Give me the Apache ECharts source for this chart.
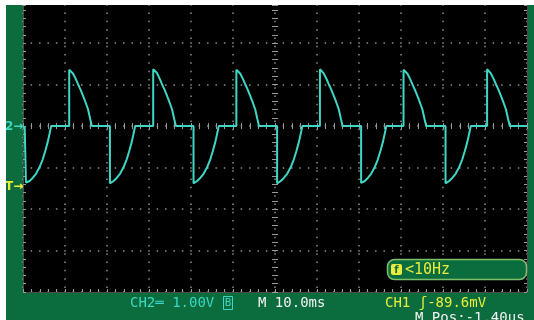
<!DOCTYPE html>
<html>
<head>
<meta charset="utf-8">
<script src="https://cdn.jsdelivr.net/npm/echarts@6/dist/echarts.min.js"></script>
<style>
  html, body { margin: 0; padding: 0; background: #ffffff; }
  #scope { width: 534px; height: 320px; }
</style>
</head>
<body>
<div id="scope"></div>
<script>
// CH2 trace, time in ms (10 ms/div) and voltage in V (1.00 V/div)
const traceTime = [
  0.4,
  0.7, 0.7, 1.0, 1.5, 2.3, 3.1, 3.9, 4.7, 5.3, 5.9, 6.4, 6.7,
  11.0, 11.0, 11.2, 11.9, 12.5, 13.1, 13.7, 14.3, 14.9, 15.5, 16.0, 16.4,
  20.7, 20.7, 21.0, 21.5, 22.3, 23.1, 23.9, 24.7, 25.3, 25.9, 26.4, 26.7,
  31.0, 31.0, 31.2, 31.9, 32.5, 33.1, 33.7, 34.3, 34.9, 35.5, 36.0, 36.4,
  40.6, 40.6, 40.9, 41.4, 42.2, 43.0, 43.8, 44.6, 45.2, 45.8, 46.3, 46.6,
  50.8, 50.8, 51.0, 51.7, 52.3, 52.9, 53.5, 54.1, 54.7, 55.3, 55.8, 56.2,
  60.5, 60.5, 60.8, 61.3, 62.1, 62.9, 63.7, 64.5, 65.1, 65.7, 66.2, 66.5,
  70.7, 70.7, 70.9, 71.6, 72.2, 72.8, 73.4, 74.0, 74.6, 75.2, 75.7, 76.1,
  80.5, 80.5, 80.8, 81.3, 82.1, 82.9, 83.7, 84.5, 85.1, 85.7, 86.2, 86.5,
  90.6, 90.6, 90.8, 91.5, 92.1, 92.7, 93.3, 93.9, 94.5, 95.1, 95.6, 96.0,
  100.6, 100.6, 100.9, 101.4, 102.2, 103.0, 103.8, 104.6, 105.2, 105.8, 106.3, 106.6,
  110.5, 110.5, 110.7, 111.4, 112.0, 112.6, 113.2, 113.8, 114.4, 115.0, 115.5, 115.9,
  120.0
];
const traceVolt = [
  0,
  0, -1.36, -1.37, -1.33, -1.25, -1.15, -1.00, -0.80, -0.60, -0.38, -0.15, 0,
  0, 1.36, 1.38, 1.27, 1.15, 1.01, 0.88, 0.73, 0.57, 0.40, 0.17, 0,
  0, -1.38, -1.39, -1.33, -1.25, -1.15, -1.00, -0.80, -0.60, -0.38, -0.15, 0,
  0, 1.37, 1.39, 1.28, 1.15, 1.01, 0.88, 0.73, 0.57, 0.40, 0.17, 0,
  0, -1.38, -1.39, -1.33, -1.25, -1.15, -1.00, -0.80, -0.60, -0.38, -0.15, 0,
  0, 1.36, 1.38, 1.27, 1.15, 1.01, 0.88, 0.73, 0.57, 0.40, 0.17, 0,
  0, -1.38, -1.39, -1.33, -1.25, -1.15, -1.00, -0.80, -0.60, -0.38, -0.15, 0,
  0, 1.37, 1.39, 1.27, 1.15, 1.01, 0.88, 0.73, 0.57, 0.40, 0.17, 0,
  0, -1.37, -1.38, -1.33, -1.25, -1.15, -1.00, -0.80, -0.60, -0.38, -0.15, 0,
  0, 1.36, 1.38, 1.27, 1.15, 1.01, 0.88, 0.73, 0.57, 0.40, 0.17, 0,
  0, -1.38, -1.39, -1.33, -1.25, -1.15, -1.00, -0.80, -0.60, -0.38, -0.15, 0,
  0, 1.37, 1.38, 1.27, 1.15, 1.01, 0.88, 0.73, 0.57, 0.40, 0.17, 0,
  0
];

// Visible part of the screen: 12 horizontal divisions; from -4 div up to
// just under +3 div vertically (the top of the graticule is out of frame)
const timeRange = [0, 120];
const timeStep = 10;
const voltRange = [-4, 2.92];
const voltStep = 1;

// Status line texts
const ch2Status = 'CH2\u2550 1.00V';
const timebaseStatus = 'M 10.0ms';
const triggerStatus = 'CH1 \u0283-89.6mV';
const positionStatus = 'M Pos:-1.40us';
const freqStatus = '<10Hz';

const GREEN = '#0b6c3d';
const CYAN = '#3ed6c4';
const YELLOW = '#e9ec3c';
const DOTS = '#8e8e8e';
const TICK = '#9a9a9a';

const traceData = traceTime.map((t, i) => [t, traceVolt[i]]);

const chart = echarts.init(document.getElementById('scope'), null, { renderer: 'canvas' });

const tickAxis = (extra) => Object.assign({
  type: 'value', min: timeRange[0], max: timeRange[1], interval: timeStep,
  axisLabel: { show: false }, splitLine: { show: false },
  axisLine: { show: false },
  axisTick: { show: true, inside: true, length: 3, lineStyle: { color: TICK, width: 1 } },
  minorTick: { show: true, splitNumber: 5, length: 3, lineStyle: { color: TICK, width: 1 } }
}, extra);

const vTickAxis = (extra) => Object.assign({
  type: 'value', min: voltRange[0], max: voltRange[1], interval: voltStep,
  axisLabel: { show: false }, splitLine: { show: false },
  axisLine: { show: false },
  axisTick: { show: true, inside: true, length: 3, lineStyle: { color: TICK, width: 1 } },
  minorTick: { show: true, splitNumber: 5, length: 3, lineStyle: { color: TICK, width: 1 } }
}, extra);

chart.setOption({
  animation: false,
  backgroundColor: GREEN,
  grid: {
    left: 23, top: 5, width: 504, height: 287,
    show: true, backgroundColor: '#000000', borderWidth: 0
  },
  xAxis: [
    // bottom border with dotted vertical grid lines
    tickAxis({
      position: 'bottom',
      axisLine: { show: true, onZero: false, lineStyle: { color: '#4a4a4a', width: 1 } },
      splitLine: { show: true, lineStyle: { color: DOTS, width: 1.5, type: [1.5, 6.8], dashOffset: 0.75 } }
    }),
    // centre horizontal graticule line, ticks on both sides
    tickAxis({ position: 'bottom', axisLine: { show: false, onZero: true, onZeroAxisIndex: 0 } }),
    tickAxis({ position: 'top', axisLine: { show: false, onZero: true, onZeroAxisIndex: 0 } }),
    // symmetric helper scale used to place the centre vertical line
    { type: 'value', min: -60, max: 60, show: false }
  ],
  yAxis: [
    // left border with dotted horizontal grid lines
    vTickAxis({
      position: 'left',
      axisLine: { show: true, onZero: false, lineStyle: { color: '#4a4a4a', width: 1 } },
      splitLine: { show: true, showMaxLine: false,
        lineStyle: { color: DOTS, width: 1.5, type: [1.5, 6.9], dashOffset: 0.75 } }
    }),
    // right border
    vTickAxis({
      position: 'right',
      axisLine: { show: true, onZero: false, lineStyle: { color: '#4a4a4a', width: 1 } }
    }),
    // centre vertical graticule line, ticks on both sides
    vTickAxis({ position: 'left', axisLine: { show: false, onZero: true, onZeroAxisIndex: 3 } }),
    vTickAxis({ position: 'right', axisLine: { show: false, onZero: true, onZeroAxisIndex: 3 } })
  ],
  series: [{
    type: 'line',
    name: 'CH2',
    xAxisIndex: 0,
    yAxisIndex: 0,
    data: traceData,
    showSymbol: false,
    clip: true,
    lineStyle: { color: CYAN, width: 2 },
    z: 5
  }],
  graphic: [
    // frequency readout box
    { type: 'rect', z: 20, shape: { x: 387.5, y: 259.5, width: 139, height: 20, r: 7 },
      style: { fill: GREEN, stroke: '#7fbf6a', lineWidth: 1.5 } },
    { type: 'rect', z: 21, shape: { x: 391, y: 264, width: 11, height: 11, r: 2 },
      style: { fill: YELLOW } },
    { type: 'text', z: 22, style: { x: 396.5, y: 270, text: 'f', fill: GREEN,
      font: 'bold 10px "DejaVu Sans"', align: 'center', verticalAlign: 'middle' } },
    { type: 'text', z: 22, style: { x: 405, y: 270, text: freqStatus, fill: YELLOW,
      font: '15px "DejaVu Sans Mono"', verticalAlign: 'middle' } },

    // channel / trigger markers at the left margin
    { type: 'text', z: 22, style: { x: 5, y: 127, text: '2\u2192', fill: CYAN,
      font: 'bold 12px "DejaVu Sans"', verticalAlign: 'middle' } },
    { type: 'text', z: 22, style: { x: 5, y: 187, text: 'T\u2192', fill: YELLOW,
      font: 'bold 12px "DejaVu Sans"', verticalAlign: 'middle' } },

    // status line
    { type: 'text', z: 22, style: { x: 130, y: 303, text: ch2Status, fill: CYAN,
      font: '14px "DejaVu Sans Mono"', verticalAlign: 'middle' } },
    { type: 'rect', z: 22, shape: { x: 223.5, y: 296.5, width: 9, height: 13 },
      style: { fill: 'none', stroke: CYAN, lineWidth: 1 } },
    { type: 'text', z: 23, style: { x: 228, y: 303.5, text: 'B', fill: CYAN,
      font: '11px "DejaVu Sans Mono"', align: 'center', verticalAlign: 'middle' } },
    { type: 'text', z: 22, style: { x: 258, y: 303, text: timebaseStatus, fill: '#f2f2f2',
      font: '14px "DejaVu Sans Mono"', verticalAlign: 'middle' } },
    { type: 'text', z: 22, style: { x: 385, y: 303, text: triggerStatus, fill: YELLOW,
      font: '14px "DejaVu Sans Mono"', verticalAlign: 'middle' } },
    { type: 'text', z: 22, style: { x: 415, y: 318, text: positionStatus, fill: '#f2f2f2',
      font: '14px "DejaVu Sans Mono"', verticalAlign: 'middle' } },

    // white page margins
    { type: 'rect', z: 50, shape: { x: 0, y: 0, width: 534, height: 5 }, style: { fill: '#ffffff' } },
    { type: 'rect', z: 50, shape: { x: 0, y: 0, width: 6, height: 320 }, style: { fill: '#ffffff' } }
  ]
});
</script>
</body>
</html>
